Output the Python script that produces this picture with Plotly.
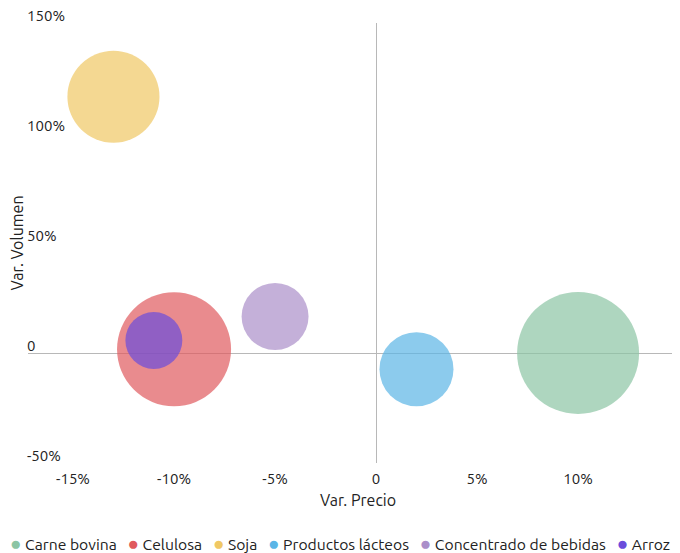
import plotly.graph_objects as go

productos = ["Carne bovina", "Celulosa", "Soja", "Productos lácteos", "Concentrado de bebidas", "Arroz"]
var_precio = [10.0, -10.0, -13.0, 2.0, -5.0, -11.0]
var_volumen = [0.0, 1.7, 116.5, -7.4, 16.6, 5.7]
peso = [3720, 3250, 2120, 1370, 1120, 810]
colores = ["#8cc5a4", "#e05a5e", "#f0c864", "#5bb5e6", "#ab8fc9", "#6a4ddb"]

x_ticks = [-15, -10, -5, 0, 5, 10]
x_labels = ["-15%", "-10%", "-5%", "0", "5%", "10%"]
y_ticks = [-50, 0, 50, 100, 150]
y_labels = ["-50%", "0", "50%", "100%", "150%"]

FONT = "Ubuntu, 'Noto Sans', sans-serif"
TXT = "#222"
LINE = "#b8b8b8"

fig = go.Figure()
for name, x, y, s, c in zip(productos, var_precio, var_volumen, peso, colores):
    fig.add_trace(go.Scatter(
        x=[x], y=[y], mode="markers", name=name,
        marker=dict(size=[s], sizemode="area", sizeref=0.5, color=c,
                    opacity=0.7, line=dict(width=0)),
        showlegend=False,
    ))

annotations = []
# y tick labels drawn above their value, inside the plot, left-aligned
for v, lab in zip(y_ticks, y_labels):
    annotations.append(dict(text=lab, xref="paper", yref="y", x=0, y=v,
                            xanchor="left", yanchor="bottom", showarrow=False,
                            font=dict(size=15, color=TXT), xshift=-3, yshift=-3))

legend_text = "&nbsp;&nbsp;&nbsp;".join(
    f"<span style='color:{c};font-size:19px'>●</span>&nbsp;{n}"
    for n, c in zip(productos, colores)
)
annotations.append(dict(text=legend_text, xref="paper", yref="paper",
                        x=-0.03, y=-0.182, xanchor="left", yanchor="middle",
                        showarrow=False, font=dict(size=15.7, color=TXT)))

fig.update_layout(
    width=680, height=545,
    margin=dict(l=20, r=0, t=15, b=90),
    paper_bgcolor="white", plot_bgcolor="white",
    font=dict(family=FONT, size=15, color=TXT),
    xaxis=dict(range=[-17.23, 15.44], tickvals=x_ticks, ticktext=x_labels,
               showgrid=False, zeroline=True, zerolinecolor=LINE, zerolinewidth=1,
               showline=False, ticks="", automargin=False, ticklabelstandoff=5,
               tickfont=dict(size=15, color=TXT),
               title=dict(text="Var. Precio", font=dict(size=16, color=TXT), standoff=8)),
    yaxis=dict(range=[-50, 150], tickvals=y_ticks, showticklabels=False,
               showgrid=False, zeroline=True, zerolinecolor=LINE, zerolinewidth=1,
               showline=False, ticks="", automargin=False,
               title=dict(text="Var. Volumen", font=dict(size=16, color=TXT), standoff=0)),
    annotations=annotations,
    showlegend=False,
)

fig.write_html("out.html")
